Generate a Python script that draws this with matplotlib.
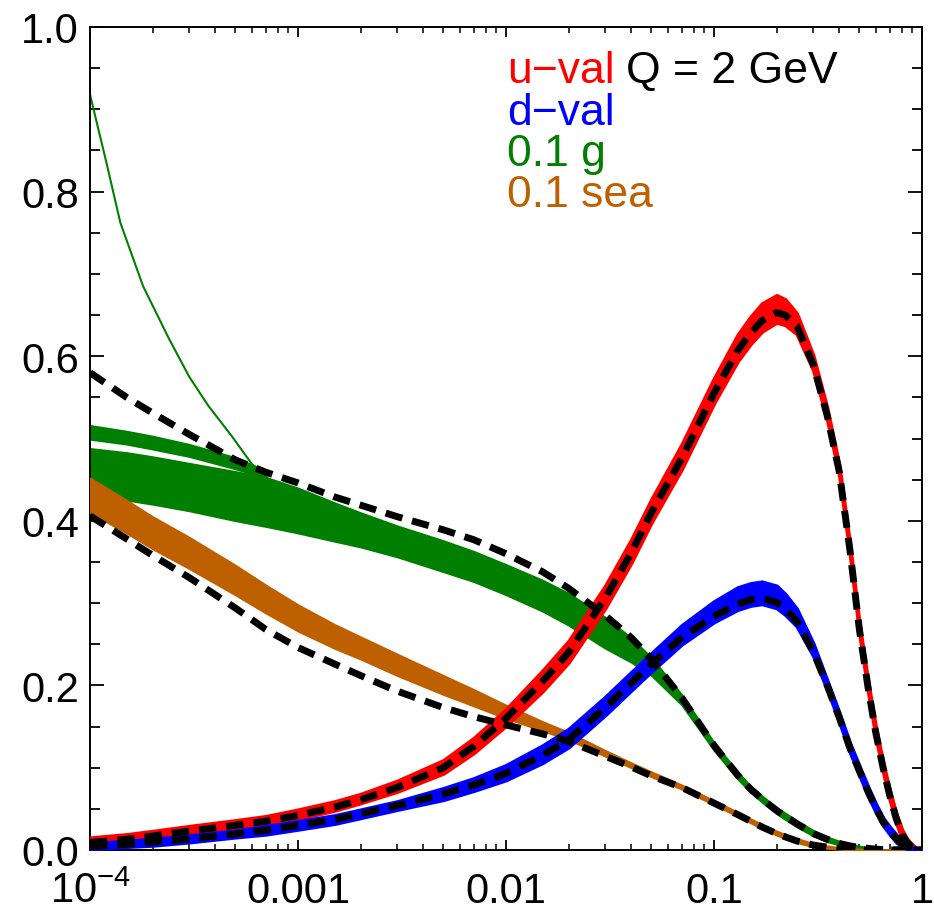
import matplotlib
matplotlib.use("Agg")
import matplotlib.pyplot as plt
from matplotlib.ticker import MultipleLocator, FormatStrFormatter, FixedLocator, NullFormatter

plt.rcParams['font.family'] = ['Liberation Sans', 'DejaVu Sans']
plt.rcParams['mathtext.fontset'] = 'custom'
plt.rcParams['mathtext.rm'] = 'Liberation Sans'
plt.rcParams['mathtext.default'] = 'regular'

# ---- data (x, Q = 2 GeV) ----
X = [1e-4, 1.5e-4, 2e-4, 3e-4, 5e-4, 7e-4, 1e-3, 1.5e-3, 2e-3, 3e-3, 5e-3, 7e-3,
     0.01, 0.015, 0.02, 0.03, 0.04, 0.05, 0.07, 0.1, 0.13, 0.15, 0.17, 0.2, 0.22,
     0.25, 0.3, 0.35, 0.4, 0.45, 0.5, 0.55, 0.6, 0.65, 0.7, 0.75, 0.8, 0.85, 0.9,
     0.95, 1.0]

# u-val: reference (dashed) and band of replicas
u_ref = [0.009, 0.013, 0.017, 0.023, 0.030, 0.035, 0.042, 0.052, 0.061, 0.076, 0.100, 0.126,
         0.160, 0.205, 0.240, 0.306, 0.361, 0.410, 0.476, 0.555, 0.607, 0.628, 0.643, 0.653, 0.650,
         0.637, 0.590, 0.528, 0.460, 0.365, 0.268, 0.198, 0.142, 0.100, 0.066, 0.039, 0.019, 0.009, 0.003,
         0.001, 0.0]
u_hi = [0.015, 0.019, 0.023, 0.029, 0.036, 0.041, 0.049, 0.059, 0.068, 0.084, 0.109, 0.136,
        0.171, 0.218, 0.254, 0.321, 0.377, 0.426, 0.493, 0.573, 0.626, 0.648, 0.664, 0.674, 0.669,
        0.652, 0.601, 0.537, 0.467, 0.372, 0.275, 0.205, 0.149, 0.106, 0.072, 0.045, 0.025, 0.013, 0.006,
        0.002, 0.0]
u_lo = [0.006, 0.010, 0.014, 0.020, 0.027, 0.032, 0.038, 0.048, 0.057, 0.071, 0.093, 0.118,
        0.151, 0.193, 0.228, 0.294, 0.349, 0.398, 0.463, 0.543, 0.594, 0.615, 0.630, 0.641, 0.638,
        0.627, 0.583, 0.523, 0.455, 0.360, 0.263, 0.193, 0.137, 0.095, 0.061, 0.034, 0.014, 0.005, 0.001,
        0.0, 0.0]

# d-val
d_ref = [0.004, 0.007, 0.0095, 0.0135, 0.0195, 0.024, 0.030, 0.037, 0.044, 0.054, 0.068, 0.079,
         0.093, 0.115, 0.134, 0.173, 0.203, 0.226, 0.258, 0.284, 0.299, 0.304, 0.306, 0.301, 0.293,
         0.278, 0.241, 0.200, 0.161, 0.124, 0.096, 0.071, 0.051, 0.034, 0.023, 0.014, 0.007, 0.003, 0.001,
         0.0, 0.0]
d_hi = [0.008, 0.011, 0.0135, 0.0175, 0.0235, 0.029, 0.035, 0.042, 0.049, 0.059, 0.075, 0.087,
        0.103, 0.127, 0.147, 0.186, 0.216, 0.239, 0.273, 0.302, 0.319, 0.324, 0.326, 0.321, 0.311,
        0.293, 0.251, 0.206, 0.167, 0.130, 0.102, 0.077, 0.056, 0.039, 0.028, 0.019, 0.011, 0.006, 0.003,
        0.001, 0.0]
d_lo = [0.001, 0.004, 0.0055, 0.0095, 0.0155, 0.019, 0.025, 0.032, 0.039, 0.049, 0.061, 0.072,
        0.085, 0.106, 0.125, 0.164, 0.194, 0.217, 0.250, 0.277, 0.292, 0.297, 0.299, 0.294, 0.286,
        0.272, 0.236, 0.195, 0.156, 0.119, 0.091, 0.066, 0.046, 0.030, 0.019, 0.010, 0.004, 0.001, 0.0,
        0.0, 0.0]

# 0.1 g
g_ref = [0.580, 0.550, 0.531, 0.505, 0.474, 0.459, 0.446, 0.429, 0.419, 0.405, 0.389, 0.377,
         0.360, 0.338, 0.318, 0.285, 0.258, 0.232, 0.185, 0.127, 0.091, 0.074, 0.062, 0.048, 0.041,
         0.032, 0.020, 0.013, 0.008, 0.005, 0.003, 0.002, 0.001, 0.0005, 0.0, 0.0, 0.0, 0.0, 0.0,
         0.0, 0.0]
g_hi = [0.488, 0.483, 0.478, 0.470, 0.460, 0.453, 0.440, 0.422, 0.410, 0.394, 0.376, 0.363,
        0.347, 0.328, 0.312, 0.283, 0.258, 0.234, 0.189, 0.131, 0.095, 0.078, 0.066, 0.052, 0.045,
        0.036, 0.024, 0.016, 0.011, 0.007, 0.005, 0.003, 0.002, 0.001, 0.0, 0.0, 0.0, 0.0, 0.0,
        0.0, 0.0]
g_lo = [0.430, 0.425, 0.420, 0.412, 0.400, 0.393, 0.385, 0.375, 0.368, 0.356, 0.338, 0.326,
        0.310, 0.290, 0.273, 0.245, 0.228, 0.212, 0.176, 0.121, 0.086, 0.070, 0.058, 0.044, 0.037,
        0.028, 0.017, 0.010, 0.006, 0.003, 0.002, 0.001, 0.0, 0.0, 0.0, 0.0, 0.0, 0.0, 0.0,
        0.0, 0.0]
# thin upper group of gluon replicas at small x (first six x values)
g2_hi = [0.516, 0.509, 0.503, 0.493, 0.477, 0.461]
g2_lo = [0.499, 0.493, 0.487, 0.478, 0.463, 0.452]
# single outlying gluon replica
g_out_x = [1e-4, 1.2e-4, 1.4e-4, 1.8e-4, 2.4e-4, 3e-4, 3.7e-4, 4.8e-4, 6e-4, 7.2e-4]
g_out_y = [0.918, 0.835, 0.762, 0.685, 0.621, 0.575, 0.540, 0.503, 0.469, 0.451]

# 0.1 sea
s_ref = [0.406, 0.378, 0.358, 0.331, 0.294, 0.268, 0.246, 0.226, 0.212, 0.193, 0.173, 0.162,
         0.152, 0.141, 0.132, 0.114, 0.101, 0.090, 0.076, 0.057, 0.043, 0.035, 0.028, 0.020, 0.016,
         0.011, 0.006, 0.0035, 0.002, 0.001, 0.0005, 0.0, 0.0, 0.0, 0.0, 0.0, 0.0, 0.0, 0.0,
         0.0, 0.0]
s_hi = [0.452, 0.425, 0.405, 0.380, 0.346, 0.322, 0.298, 0.274, 0.259, 0.238, 0.212, 0.195,
        0.176, 0.156, 0.143, 0.121, 0.106, 0.095, 0.079, 0.060, 0.046, 0.038, 0.031, 0.023, 0.019,
        0.014, 0.008, 0.005, 0.003, 0.002, 0.001, 0.0, 0.0, 0.0, 0.0, 0.0, 0.0, 0.0, 0.0,
        0.0, 0.0]
s_lo = [0.410, 0.385, 0.366, 0.342, 0.310, 0.288, 0.266, 0.245, 0.232, 0.212, 0.189, 0.175,
        0.160, 0.145, 0.134, 0.114, 0.100, 0.089, 0.074, 0.055, 0.041, 0.033, 0.026, 0.018, 0.014,
        0.009, 0.004, 0.002, 0.001, 0.0, 0.0, 0.0, 0.0, 0.0, 0.0, 0.0, 0.0, 0.0, 0.0,
        0.0, 0.0]

xtick_vals = [1e-4, 1e-3, 1e-2, 1e-1, 1.0]
xtick_labels = ['$10^{-4}$', '0.001', '0.01', '0.1', '1']

RED = '#ff0000'
BLUE = '#0000ff'
GREEN = '#007f00'
SEA = '#bf6000'

# ---- figure ----
fig = plt.figure(figsize=(9.34, 9.12), dpi=100)
ax = fig.add_axes([90 / 934, 61 / 912, 832 / 934, 823 / 912])

# bands of replicas
ax.fill_between(X, g_lo, g_hi, color=GREEN, lw=1.2, zorder=2)
ax.fill_between(X[:6], g2_lo, g2_hi, color=GREEN, lw=1.2, zorder=2)
ax.plot(g_out_x, g_out_y, color=GREEN, lw=1.5, zorder=2)
ax.fill_between(X, s_lo, s_hi, color=SEA, lw=1.4, zorder=3)
ax.fill_between(X, u_lo, u_hi, color=RED, lw=2.6, zorder=4)
ax.fill_between(X, d_lo, d_hi, color=BLUE, lw=2.6, zorder=5)

# reference curves
for ref in (u_ref, d_ref, g_ref, s_ref):
    ax.plot(X, ref, color='black', lw=5.0, dashes=(2.5, 1.45),
            dash_capstyle='butt', solid_joinstyle='round', zorder=6)

ax.set_xscale('log')
ax.set_xlim(1e-4, 1.0)
ax.set_ylim(0.0, 1.0)

ax.xaxis.set_major_locator(FixedLocator(xtick_vals))
ax.set_xticklabels(xtick_labels)
ax.xaxis.set_minor_formatter(NullFormatter())
ax.yaxis.set_major_locator(MultipleLocator(0.2))
ax.yaxis.set_minor_locator(MultipleLocator(0.05))
ax.yaxis.set_major_formatter(FormatStrFormatter('%.1f'))

ax.tick_params(axis='both', which='both', direction='in', top=True, right=True, colors='black')
ax.tick_params(axis='y', which='major', length=10, width=1.3, labelsize=30, pad=8)
ax.tick_params(axis='y', which='minor', length=7, width=1.3)
ax.tick_params(axis='x', which='major', length=7.5, width=1.3, labelsize=30, pad=15)
ax.tick_params(axis='x', which='minor', length=4, width=1.1)
for sp in ax.spines.values():
    sp.set_linewidth(1.4)

# legend-like labels
fs = 32
t1 = ax.text(0.501, 0.9335, 'u\u2212val', color=RED, fontsize=fs,
             transform=ax.transAxes, va='baseline', ha='left', zorder=7)
ax.annotate('Q = 2 GeV', xy=(1, 0), xycoords=t1, xytext=(12, 0),
            textcoords='offset pixels', va='bottom', ha='left',
            fontsize=fs, color='black', zorder=7)
ax.text(0.501, 0.882, 'd\u2212val', color=BLUE, fontsize=fs,
        transform=ax.transAxes, va='baseline', ha='left', zorder=7)
ax.text(0.501, 0.832, '0.1 g', color=GREEN, fontsize=fs,
        transform=ax.transAxes, va='baseline', ha='left', zorder=7)
ax.text(0.501, 0.7825, '0.1 sea', color=SEA, fontsize=fs,
        transform=ax.transAxes, va='baseline', ha='left', zorder=7)

fig.savefig('out.png', dpi=100)
